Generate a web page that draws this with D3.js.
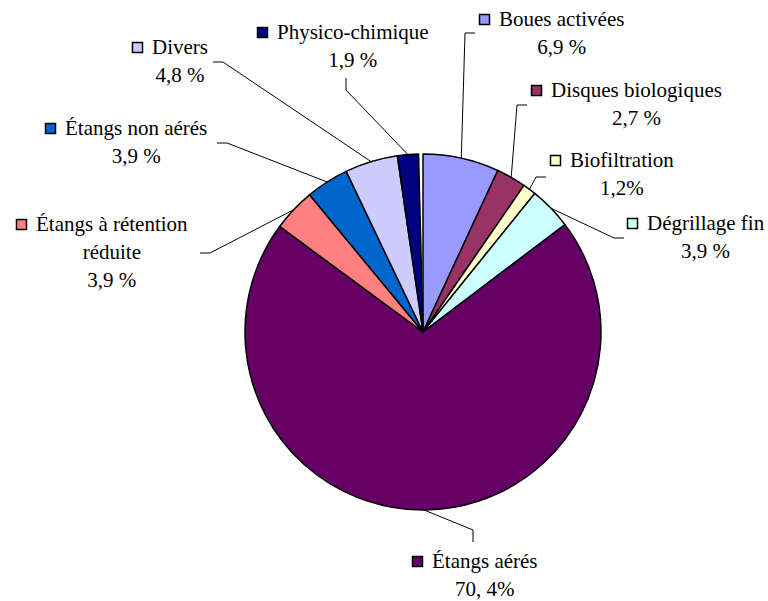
<!DOCTYPE html>
<html>
<head>
<meta charset="utf-8">
<script src="https://cdn.jsdelivr.net/npm/d3@7"></script>
</head>
<body style="margin:0">
<svg></svg>
<script>
const width = 768
const height = 601

// data, clockwise from 12 o'clock
const categories = [
  'Boues activées',
  'Disques biologiques',
  'Biofiltration',
  'Dégrillage fin',
  'Étangs aérés',
  'Étangs à rétention|réduite',
  'Étangs non aérés',
  'Divers',
  'Physico-chimique',
]
const values = [6.9, 2.7, 1.2, 3.9, 70.4, 3.9, 3.9, 4.8, 1.9]
const valueLabels = ['6,9 %', '2,7 %', '1,2%', '3,9 %', '70, 4%', '3,9 %', '3,9 %', '4,8 %', '1,9 %']

const colors = ['#9999ff', '#993366', '#ffffcc', '#ccffff', '#660066', '#ff8080', '#0066cc', '#ccccff', '#000080']

// label layout: square left x, first baseline, leader start / elbow
const layout = [
  { sx: 479, y: 26, lead: [[475, 33], [465, 33]] },
  { sx: 531, y: 97, lead: [[527, 105], [517, 105]] },
  { sx: 550, y: 167, lead: [[546, 177], [536, 177]] },
  { sx: 627, y: 230, lead: [[624, 238], [614, 238]] },
  { sx: 412, y: 568, lead: [[473, 542], [473, 530]] },
  { sx: 16, y: 231, lead: [[200, 253], [210, 253]] },
  { sx: 45, y: 135, lead: [[217, 143], [227, 143]] },
  { sx: 132, y: 54, lead: [[213, 62], [223, 62]] },
  { sx: 257, y: 39, lead: [[346, 78], [346, 90]] },
]

const cx = 423
const cy = 332
const radius = 178
const lineHeight = 28

const svg = d3.select('svg')
  .attr('width', width)
  .attr('height', height)
  .attr('font-family', 'serif')

const angle = d3.scaleLinear().domain([0, 100]).range([0, 2 * Math.PI])
const cumulative = d3.cumsum(values)
const slices = values.map((v, i) => ({
  i,
  startAngle: angle(cumulative[i] - v),
  endAngle: angle(cumulative[i]),
}))

const arc = d3.arc().innerRadius(0).outerRadius(radius)
const pie = svg.append('g').attr('transform', `translate(${cx},${cy})`)

pie
  .selectAll('path')
  .data(slices)
  .enter()
  .append('path')
  .attr('d', arc)
  .attr('fill', (d) => colors[d.i])
  .attr('stroke', '#000')
  .attr('stroke-width', 1.5)
  .attr('stroke-linejoin', 'round')

// leader lines
const line = d3.line()
svg
  .append('g')
  .selectAll('path')
  .data(slices)
  .enter()
  .append('path')
  .attr('d', (d) => {
    const mid = (d.startAngle + d.endAngle) / 2
    const edge = [cx + radius * Math.sin(mid), cy - radius * Math.cos(mid)]
    return line([...layout[d.i].lead, edge])
  })
  .attr('fill', 'none')
  .attr('stroke', '#000')
  .attr('stroke-width', 1)

// labels
slices.forEach((d) => {
  const pos = layout[d.i]
  svg.append('rect')
    .attr('x', pos.sx + 0.5)
    .attr('y', pos.y - 11.5)
    .attr('width', 10)
    .attr('height', 10)
    .attr('fill', colors[d.i])
    .attr('stroke', '#000')
    .attr('stroke-width', 1.5)
  const lines = categories[d.i].split('|').concat([valueLabels[d.i]])
  const first = svg.append('text')
    .attr('x', pos.sx + 20)
    .attr('y', pos.y)
    .attr('font-family', 'Liberation Serif, serif')
    .attr('font-size', 21)
    .text(lines[0])
  const center = pos.sx + 20 + first.node().getComputedTextLength() / 2
  lines.slice(1).forEach((t, k) => {
    svg.append('text')
      .attr('x', center)
      .attr('y', pos.y + lineHeight * (k + 1))
      .attr('text-anchor', 'middle')
      .attr('font-family', 'Liberation Serif, serif')
      .attr('font-size', 21)
      .text(t)
  })
})
</script>
</body>
</html>
